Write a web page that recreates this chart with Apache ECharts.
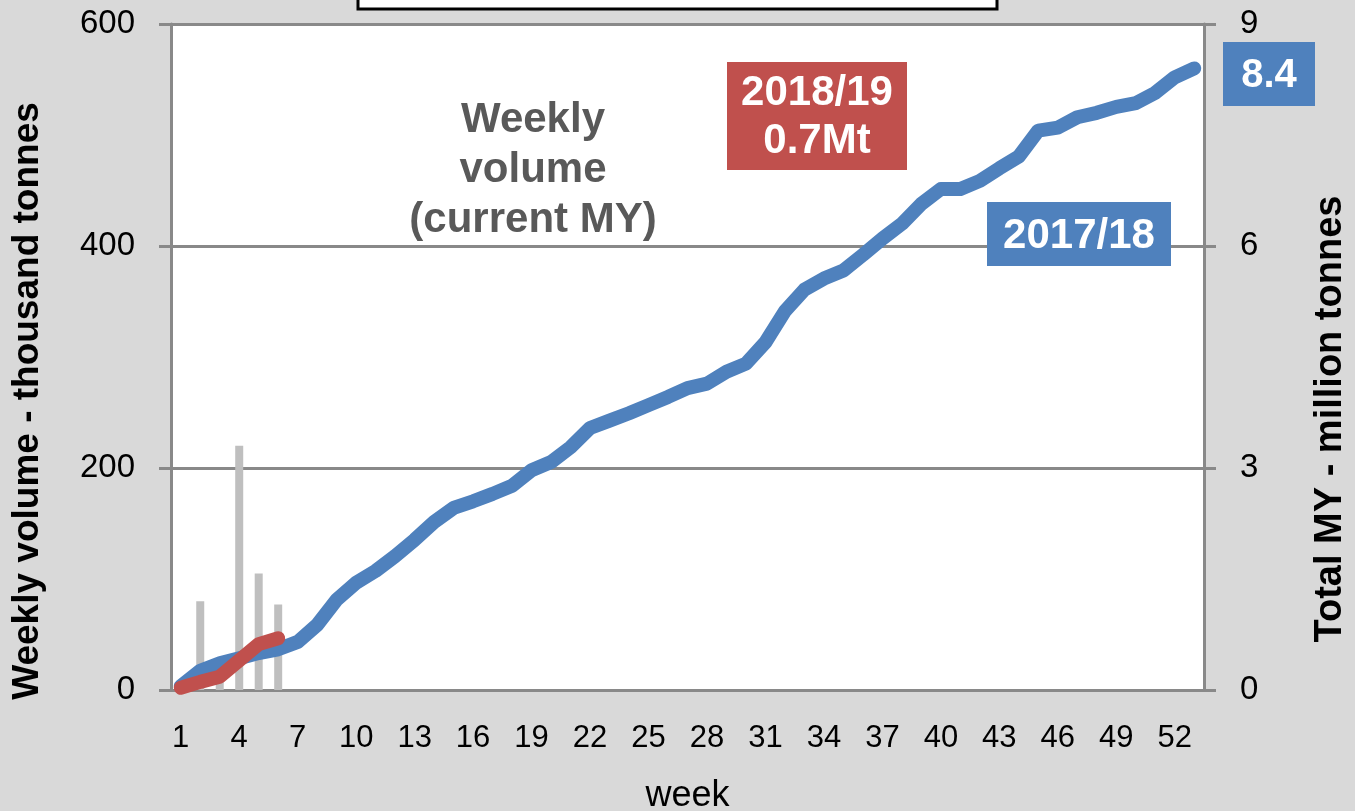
<!DOCTYPE html>
<html>
<head>
<meta charset="utf-8">
<script src="https://cdn.jsdelivr.net/npm/echarts@6/dist/echarts.min.js"></script>
<style>
  html, body { margin: 0; padding: 0; background: #D9D9D9; }
  #chart { width: 1355px; height: 811px; }
</style>
</head>
<body>
<div id="chart"></div>
<script>
// Marketing-year weeks
const weeks = [1, 2, 3, 4, 5, 6, 7, 8, 9, 10, 11, 12, 13, 14, 15, 16, 17, 18, 19, 20,
  21, 22, 23, 24, 25, 26, 27, 28, 29, 30, 31, 32, 33, 34, 35, 36, 37, 38, 39, 40,
  41, 42, 43, 44, 45, 46, 47, 48, 49, 50, 51, 52, 53];

// Axis ticks
const weeklyTicks = [0, 200, 400, 600];   // thousand tonnes
const totalTicks = [0, 3, 6, 9];          // million tonnes

const seasonPrev = '2017/18';
const seasonCur = '2018/19';

// Cumulative marketing-year total, million tonnes
const totalPrev = [0.05, 0.26, 0.36, 0.43, 0.50, 0.55, 0.65, 0.88, 1.22, 1.45,
  1.61, 1.81, 2.03, 2.27, 2.46, 2.55, 2.65, 2.76, 2.97, 3.08,
  3.28, 3.54, 3.64, 3.74, 3.85, 3.96, 4.08, 4.14, 4.30, 4.41,
  4.70, 5.12, 5.41, 5.56, 5.67, 5.88, 6.10, 6.30, 6.57, 6.77,
  6.77, 6.88, 7.05, 7.21, 7.56, 7.60, 7.74, 7.80, 7.88, 7.93,
  8.07, 8.28, 8.40];
const totalCur = [0.03, 0.11, 0.18, 0.40, 0.62, 0.70];

// Weekly volume of the current marketing year, thousand tonnes
const weeklyCur = [8, 80, 18, 220, 105, 77];

const FONT = '"Liberation Sans", Arial, sans-serif';
const GRID_GREY = '#898989';
const BLUE = '#4F81BD';
const RED = '#C0504D';

const lastCur = totalCur[totalCur.length - 1];
const lastPrev = totalPrev[totalPrev.length - 1];

const chart = echarts.init(document.getElementById('chart'), null, { renderer: 'canvas' });

const option = {
  animation: false,
  backgroundColor: '#D9D9D9',
  grid: {
    left: 171, right: 151, top: 24, bottom: 121,
    containLabel: false,
    outerBoundsMode: 'none',
    show: true, backgroundColor: '#FFFFFF', borderWidth: 0
  },
  xAxis: {
    type: 'category',
    data: weeks.map(String),
    boundaryGap: true,
    name: 'week',
    nameLocation: 'middle',
    nameGap: 88,
    nameTextStyle: { fontSize: 36, color: '#000', fontFamily: FONT },
    axisLine: { lineStyle: { color: GRID_GREY, width: 3 } },
    axisTick: { interval: 0, length: 12, lineStyle: { color: GRID_GREY, width: 3 } },
    axisLabel: { interval: 2, margin: 33, fontSize: 31, color: '#000', fontFamily: FONT },
    splitLine: { show: false }
  },
  yAxis: [
    {
      type: 'value',
      position: 'left',
      min: weeklyTicks[0],
      max: weeklyTicks[weeklyTicks.length - 1],
      interval: weeklyTicks[1] - weeklyTicks[0],
      axisLine: { show: true, lineStyle: { color: GRID_GREY, width: 3 } },
      axisTick: { show: true, length: 12, lineStyle: { color: GRID_GREY, width: 3 } },
      axisLabel: { margin: 36, fontSize: 33, color: '#000', fontFamily: FONT },
      splitLine: { show: true, lineStyle: { color: GRID_GREY, width: 3 } }
    },
    {
      type: 'value',
      position: 'right',
      min: totalTicks[0],
      max: totalTicks[totalTicks.length - 1],
      interval: totalTicks[1] - totalTicks[0],
      axisLine: { show: true, lineStyle: { color: GRID_GREY, width: 3 } },
      axisTick: { show: true, length: 12, lineStyle: { color: GRID_GREY, width: 3 } },
      axisLabel: { margin: 36, fontSize: 33, color: '#000', fontFamily: FONT },
      splitLine: { show: false }
    }
  ],
  series: [
    {
      name: seasonCur + ' weekly',
      type: 'bar',
      yAxisIndex: 0,
      data: weeklyCur,
      barWidth: 8,
      itemStyle: { color: '#BFBFBF' },
      z: 1
    },
    {
      name: seasonPrev,
      type: 'line',
      yAxisIndex: 1,
      data: totalPrev,
      showSymbol: false,
      symbol: 'none',
      lineStyle: { color: BLUE, width: 14, cap: 'round', join: 'round' },
      z: 3
    },
    {
      name: seasonCur,
      type: 'line',
      yAxisIndex: 1,
      data: totalCur,
      showSymbol: false,
      symbol: 'none',
      lineStyle: { color: RED, width: 14, cap: 'round', join: 'round' },
      z: 4
    }
  ],
  graphic: [
    // title frame at the top edge
    {
      type: 'rect',
      shape: { x: 358, y: -20, width: 639, height: 29 },
      style: { fill: '#FFFFFF', stroke: '#000000', lineWidth: 3 },
      z: 10
    },
    // axis titles
    {
      type: 'text', x: 28, y: 401, rotation: Math.PI / 2,
      style: {
        text: 'Weekly volume - thousand tonnes', fill: '#000',
        fontSize: 37, fontWeight: 'bold', fontFamily: FONT,
        align: 'center', verticalAlign: 'middle'
      }
    },
    {
      type: 'text', x: 1331, y: 419, rotation: Math.PI / 2,
      style: {
        text: 'Total MY - million tonnes', fill: '#000',
        fontSize: 38, fontWeight: 'bold', fontFamily: FONT,
        align: 'center', verticalAlign: 'middle'
      }
    },
    // bar series caption
    {
      type: 'text', x: 533, y: 170,
      style: {
        text: 'Weekly\nvolume\n(current MY)', fill: '#595959',
        fontSize: 42, fontWeight: 'bold', fontFamily: FONT, lineHeight: 50,
        align: 'center', verticalAlign: 'middle'
      },
      z: 10
    },
    // current season badge
    {
      type: 'rect',
      shape: { x: 727, y: 62, width: 180, height: 108 },
      style: { fill: RED },
      z: 10
    },
    {
      type: 'text', x: 817, y: 117,
      style: {
        text: seasonCur + '\n' + lastCur.toFixed(1) + 'Mt', fill: '#FFFFFF',
        fontSize: 42, fontWeight: 'bold', fontFamily: FONT, lineHeight: 48,
        align: 'center', verticalAlign: 'middle'
      },
      z: 11
    },
    // previous season badge
    {
      type: 'rect',
      shape: { x: 987, y: 202, width: 184, height: 64 },
      style: { fill: BLUE },
      z: 10
    },
    {
      type: 'text', x: 1079, y: 236,
      style: {
        text: seasonPrev, fill: '#FFFFFF',
        fontSize: 42, fontWeight: 'bold', fontFamily: FONT,
        align: 'center', verticalAlign: 'middle'
      },
      z: 11
    },
    // end-of-year total badge
    {
      type: 'rect',
      shape: { x: 1223, y: 42, width: 92, height: 64 },
      style: { fill: BLUE },
      z: 10
    },
    {
      type: 'text', x: 1269, y: 76,
      style: {
        text: lastPrev.toFixed(1), fill: '#FFFFFF',
        fontSize: 40, fontWeight: 'bold', fontFamily: FONT,
        align: 'center', verticalAlign: 'middle'
      },
      z: 11
    }
  ]
};

chart.setOption(option);
</script>
</body>
</html>
